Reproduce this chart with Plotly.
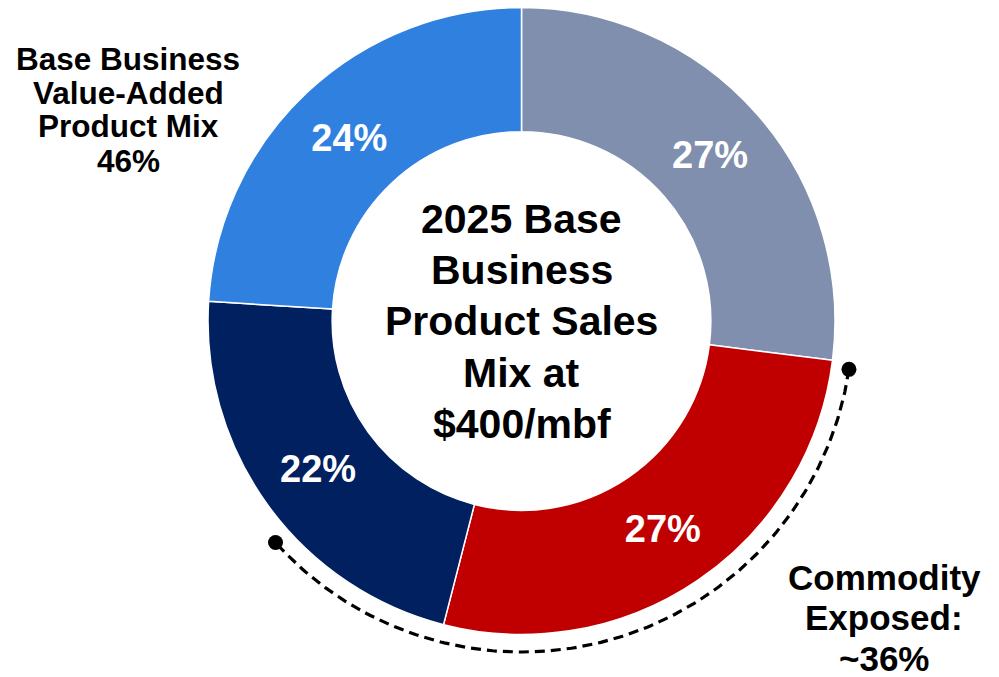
import numpy as np
import plotly.graph_objects as go

# ---- data ----
segments = ["Commodity A", "Commodity B", "Value-Added A", "Value-Added B"]
shares = [27, 27, 22, 24]
colors = ["#7F8FAD", "#C00000", "#002060", "#3080E0"]
center_title = ["2025 Base", "Business", "Product Sales", "Mix at", "$400/mbf"]
left_label = ["Base Business", "Value-Added", "Product Mix", "46%"]
right_label = ["Commodity", "Exposed:", "~36%"]
commodity_exposed = 36  # percent of circle covered by the dashed bracket

W, H = 999, 677
cx, cy, R = 521.5, 321.0, 313.5  # pixel geometry of donut
FONT = "Liberation Sans, Arial, sans-serif"

fig = go.Figure()

fig.add_trace(go.Pie(
    labels=segments,
    values=shares,
    sort=False,
    direction="clockwise",
    rotation=0,
    hole=0.604,
    marker=dict(colors=colors, line=dict(color="white", width=1.5)),
    texttemplate="%{value}%",
    textposition="inside",
    insidetextorientation="horizontal",
    textfont=dict(family=FONT, size=38, color="white", weight="bold"),
    domain=dict(x=[(cx - R) / W, (cx + R) / W],
                y=[(H - cy - R) / H, (H - cy + R) / H]),
    showlegend=False,
    hoverinfo="label+percent",
))

# dashed bracket around the commodity exposed portion (pixel-unit axes centred on donut)
arc_r = 331
start_deg = 360 * shares[0] / 100 + 1.2
end_deg = start_deg + 360 * commodity_exposed / 100
theta = np.radians(np.linspace(start_deg, end_deg, 200))
ax_x = arc_r * np.sin(theta)
ax_y = arc_r * np.cos(theta)
fig.add_trace(go.Scatter(
    x=ax_x, y=ax_y, mode="lines",
    line=dict(color="black", width=3.2, dash="10px,6px"),
    showlegend=False, hoverinfo="skip",
))
fig.add_trace(go.Scatter(
    x=[ax_x[0], ax_x[-1]], y=[ax_y[0], ax_y[-1]], mode="markers",
    marker=dict(color="black", size=15),
    showlegend=False, hoverinfo="skip",
))

annotations = []
# centre title lines
for i, t in enumerate(center_title):
    annotations.append(dict(
        x=cx / W, y=(H - (219 + 51.2 * i)) / H, xref="paper", yref="paper",
        text=t, showarrow=False, xanchor="center", yanchor="middle",
        font=dict(family=FONT, size=41, color="black", weight="bold"),
    ))
# left label lines
for i, t in enumerate(left_label):
    annotations.append(dict(
        x=128 / W, y=(H - (58.5 + 34 * i)) / H, xref="paper", yref="paper",
        text=t, showarrow=False, xanchor="center", yanchor="middle",
        font=dict(family=FONT, size=31.5, color="black", weight="bold"),
    ))
# right label lines
for i, t in enumerate(right_label):
    annotations.append(dict(
        x=884 / W, y=(H - (577 + 40.5 * i)) / H, xref="paper", yref="paper",
        text=t, showarrow=False, xanchor="center", yanchor="middle",
        font=dict(family=FONT, size=35, color="black", weight="bold"),
    ))

fig.update_layout(
    width=W, height=H,
    margin=dict(l=0, r=0, t=0, b=0),
    paper_bgcolor="white", plot_bgcolor="white",
    xaxis=dict(range=[-cx, W - cx], visible=False, fixedrange=True),
    yaxis=dict(range=[-(H - cy), cy], visible=False, fixedrange=True),
    annotations=annotations,
)

fig.write_html("out.html", config={"displayModeBar": False},
               post_script="document.body.style.margin='0';")
